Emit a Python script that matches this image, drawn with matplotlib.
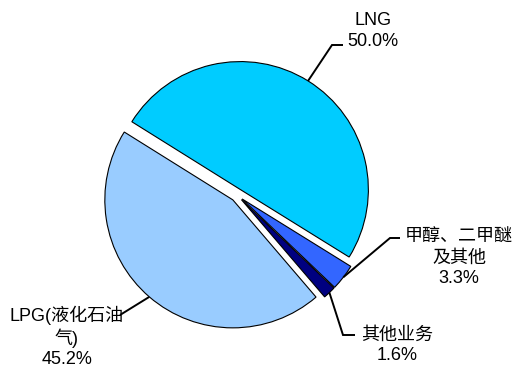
import numpy as np
import matplotlib.pyplot as plt

plt.rcParams['font.family'] = ['Liberation Sans', 'Noto Sans CJK SC']

# data (clockwise from the LNG slice)
labels = ['LNG', '甲醇、二甲醚\n及其他', '其他业务', 'LPG(液化石油\n气)']
shares = [50.0, 3.3, 1.6, 45.2]
colors = ['#00CCFF', '#3366FF', '#000080', '#99CCFF']

W, H = 518, 369
R = 128.0          # pie radius in pixels
CX, CY = 237, 195  # pie centre in pixels (from top-left)


def px(x, y):
    """pixel position (top-left origin) -> data coords (1 unit = radius)"""
    return (x - CX) / R, (CY - y) / R


fig = plt.figure(figsize=(W / 100, H / 100), dpi=100)
ax = fig.add_axes([0, 0, 1, 1])

wedges, _ = ax.pie(shares, colors=colors, startangle=148, counterclock=False,
                   explode=[0.05] * len(shares), radius=1.0,
                   wedgeprops=dict(edgecolor='black', linewidth=0.8))

ax.set_xlim(-CX / R, (W - CX) / R)
ax.set_ylim(-(H - CY) / R, CY / R)
ax.set_aspect('equal')
ax.axis('off')

# leader elbows / ends and label centres, in pixels
elbows = [((332, 45), (343, 45)), ((390, 238), (400, 238)),
          ((343, 335), (355, 335)), ((120, 315), (120, 315))]
text_pos = [(373, 31), (459, 258), (397, 345), (67, 337)]

for w, lab, val, (e1, e2), tp in zip(wedges, labels, shares, elbows, text_pos):
    mid = np.deg2rad((w.theta1 + w.theta2) / 2)
    sx = w.center[0] + w.r * np.cos(mid)
    sy = w.center[1] + w.r * np.sin(mid)
    p1, p2 = px(*e1), px(*e2)
    ax.plot([sx, p1[0], p2[0]], [sy, p1[1], p2[1]], color='black', lw=1.4,
            solid_capstyle='butt', solid_joinstyle='miter')
    ax.text(*px(*tp), f'{lab}\n{val:.1f}%', ha='center', va='center',
            fontsize=13, linespacing=1.25)

fig.savefig('out.png', dpi=100)
